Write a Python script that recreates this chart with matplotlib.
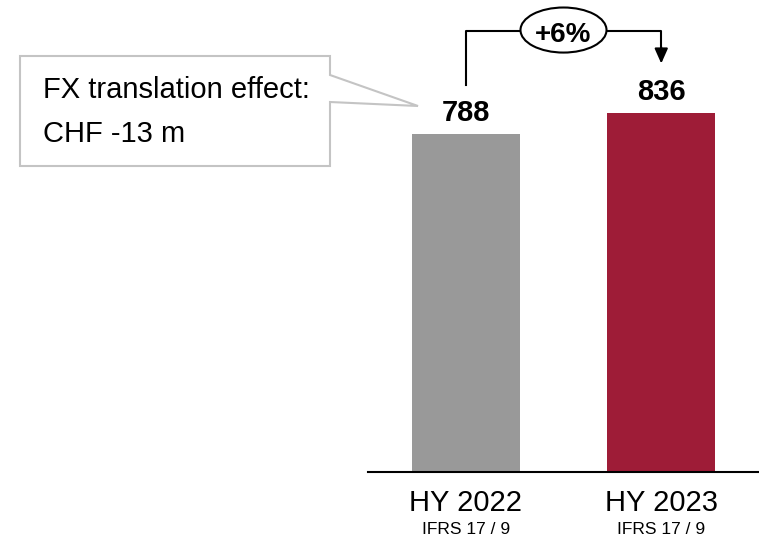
"""Half-year comparison bar chart with growth bracket and FX callout."""

import matplotlib

matplotlib.use("Agg")
import matplotlib.pyplot as plt
from matplotlib.patches import Ellipse, Polygon

plt.rcParams["font.family"] = ["Liberation Sans", "DejaVu Sans"]

W, H = 759, 539

periods = ["HY 2022", "HY 2023"]
subtitles = ["IFRS 17 / 9", "IFRS 17 / 9"]
values = [788, 836]
bar_colors = ["#999999", "#9e1c37"]
growth_label = "+6%"
callout_lines = ["FX translation effect:", "CHF -13 m"]


def fig_xy(px, py):
    return px / W, 1 - py / H


def main() -> None:
    fig = plt.figure(figsize=(W / 100, H / 100), dpi=100)
    ax = fig.add_axes([368 / W, 67 / H, 1 - 368 / W, 472 / H])

    xs = list(range(len(values)))
    ax.bar(xs, values, width=0.55, color=bar_colors)
    ax.set_xlim(-0.5, 1.5)
    ax.set_ylim(0, 1100)
    for side in ("top", "right", "left"):
        ax.spines[side].set_visible(False)
    ax.spines["bottom"].set_linewidth(1.5)
    ax.set_yticks([])
    ax.set_xticks([])

    for x, v, name, sub in zip(xs, values, periods, subtitles):
        ax.text(x, v + 17, f"{v}", ha="center", va="bottom", fontsize=21, fontweight="bold")
        ax.text(x, -72, name, ha="center", va="center", fontsize=21)
        ax.text(x, -133, sub, ha="center", va="center", fontsize=12.5)

    # growth bracket
    y_top = 1027
    ax.plot([0, 0, 1, 1], [903, y_top, y_top, 985], color="black", lw=1.5, clip_on=False)
    ax.annotate("", xy=(1, 952), xytext=(1, 990),
                arrowprops={"arrowstyle": "-|>,head_width=0.4,head_length=0.9",
                            "color": "black", "lw": 1.5, "shrinkA": 0, "shrinkB": 0},
                annotation_clip=False)
    ell = Ellipse((0.5, y_top + 3), 0.44, 105, facecolor="white", edgecolor="black",
                  lw=1.5, clip_on=False, zorder=3)
    ax.add_patch(ell)
    ax.text(0.5, 1001, growth_label, ha="center", va="baseline", fontsize=20,
            fontweight="bold", zorder=4)

    # callout box
    pts = [(20, 56), (330, 56), (330, 75), (418, 106), (330, 102), (330, 166), (20, 166)]
    callout = Polygon([fig_xy(*p) for p in pts], closed=True, transform=fig.transFigure,
                      facecolor="white", edgecolor="#c4c4c4", lw=1.5)
    fig.patches.append(callout)
    fig.text(*fig_xy(43, 90), callout_lines[0], ha="left", va="center", fontsize=21)
    fig.text(*fig_xy(43, 134), callout_lines[1], ha="left", va="center", fontsize=21)

    fig.savefig("out.png", dpi=100)


if __name__ == "__main__":
    main()
